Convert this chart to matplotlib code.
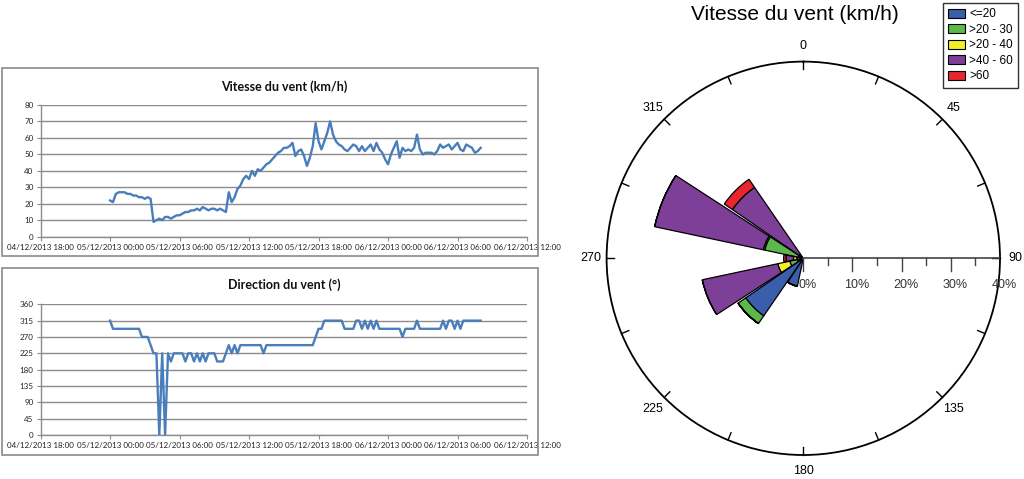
import numpy as np
import pandas as pd
import matplotlib
matplotlib.use("Agg")
import matplotlib.pyplot as plt
import matplotlib.dates as mdates
import matplotlib.transforms as mtransforms
from matplotlib.patches import Rectangle, Patch

# --- time series, one reading every 15 min from 05/12/2013 00:00 ---
speed = [22, 21, 26, 27, 27, 27, 26, 26, 25, 25, 24, 24, 23, 24, 23, 9,
         10, 11, 10, 12, 12, 11, 12, 13, 13, 14, 15, 15, 16, 16, 17, 16,
         18, 17, 16, 17, 17, 16, 17, 16, 15, 27, 21, 24, 29, 31, 35, 37,
         35, 40, 37, 41, 40, 42, 44, 45, 47, 49, 51, 52, 54, 54, 55, 57,
         49, 52, 53, 49, 43, 48, 55, 69, 58, 53, 58, 63, 70, 62, 58, 56,
         55, 53, 52, 54, 56, 55, 52, 55, 52, 54, 56, 52, 57, 53, 51, 47,
         44, 50, 54, 58, 48, 54, 52, 53, 52, 54, 62, 53, 50, 51, 51, 51,
         50, 52, 56, 54, 55, 56, 53, 55, 57, 53, 52, 56, 55, 54, 51, 52,
         54]

direction = [315, 292.5, 292.5, 292.5, 292.5, 292.5, 292.5, 292.5, 292.5, 292.5,
             292.5, 270, 270, 270, 247.5, 225, 225, 0, 225, 0,
             225, 202.5, 225, 225, 225, 225, 202.5, 225, 225, 202.5,
             225, 202.5, 225, 202.5, 225, 225, 225, 202.5, 202.5, 202.5,
             225, 247.5, 225, 247.5, 225, 247.5, 247.5, 247.5, 247.5, 247.5,
             247.5, 247.5, 247.5, 225, 247.5, 247.5, 247.5, 247.5, 247.5, 247.5,
             247.5, 247.5, 247.5, 247.5, 247.5, 247.5, 247.5, 247.5, 247.5, 247.5,
             247.5, 270, 292.5, 292.5, 315, 315, 315, 315, 315, 315,
             315, 292.5, 292.5, 292.5, 292.5, 315, 315, 292.5, 315, 292.5,
             315, 292.5, 315, 292.5, 292.5, 292.5, 292.5, 292.5, 292.5, 292.5,
             292.5, 270, 292.5, 292.5, 292.5, 292.5, 315, 292.5, 292.5, 292.5,
             292.5, 292.5, 292.5, 292.5, 292.5, 315, 292.5, 315, 315, 292.5,
             315, 292.5, 315, 315, 315, 315, 315, 315, 315]

# --- wind rose: percentage per sector and speed class ---
sectors = [202.5, 225, 247.5, 270, 292.5, 315]
classes = ["<=20", ">20 - 30", ">20 - 40", ">40 - 60", ">60"]
pct_le20 = [5.8, 14.2, 1.2, 0.5, 1.0, 0.3]
pct_20_30 = [0.0, 1.9, 1.6, 0.8, 7.0, 0.7]
pct_30_40 = [0.0, 0.0, 2.5, 0.7, 0.3, 0.0]
pct_40_60 = [0.0, 0.0, 15.7, 1.5, 22.6, 16.5]
pct_gt60 = [0.0, 0.0, 0.0, 0.5, 0.0, 2.0]
class_colors = ["#3a5eab", "#5cb84a", "#f3ee2a", "#7d3f98", "#e8262b"]

W, H = 1024, 479
fig = plt.figure(figsize=(W / 100, H / 100), dpi=100)
fig.patch.set_facecolor("white")

line_col = "#4a7ebb"
grid_col = "#8c8c8c"
font_xl = ["Lato", "DejaVu Sans"]
font_rose = ["Liberation Sans", "DejaVu Sans"]

times = pd.date_range("2013-12-05 00:00", periods=len(speed), freq="15min")


def fx(px):
    return px / W


def fy(py):
    return 1 - py / H


def excel_axes(rect, data, ymax, ystep, title, title_y):
    ax = fig.add_axes(rect)
    ax.plot(times, data, color=line_col, lw=1.7)
    ax.set_xlim(pd.Timestamp("2013-12-04 18:00"), pd.Timestamp("2013-12-06 12:00"))
    ax.set_ylim(0, ymax)
    ax.set_yticks(np.arange(0, ymax + 1, ystep))
    ax.xaxis.set_major_locator(mdates.HourLocator(byhour=[0, 6, 12, 18]))
    ax.xaxis.set_major_formatter(mdates.DateFormatter("%d/%m/%Y %H:%M"))
    ax.grid(axis="y", color=grid_col, lw=1)
    ax.set_axisbelow(True)
    for s in ["top", "right"]:
        ax.spines[s].set_visible(False)
    for s in ["left", "bottom"]:
        ax.spines[s].set_color(grid_col)
        ax.spines[s].set_linewidth(1)
    ax.tick_params(axis="both", length=3, width=0.8, color=grid_col,
                   labelsize=5.8, labelcolor="#222222", pad=2)
    for lab in ax.get_xticklabels() + ax.get_yticklabels():
        lab.set_family(font_xl)
    ax.set_facecolor("none")
    fig.text(fx(284), fy(title_y), title, ha="center", va="center",
             fontsize=9, fontweight="bold", family=font_xl, color="#111111")
    return ax


ax1 = excel_axes([fx(40.6), fy(236.7), fx(527 - 40.6), (236.7 - 105) / H],
                 speed, 80, 10, "Vitesse du vent (km/h)", 87)
ax2 = excel_axes([fx(40.6), fy(435), fx(527 - 40.6), (435 - 304.3) / H],
                 direction, 360, 45, "Direction du vent (°)", 285)

# chart frames
for y0, y1 in [(68, 256), (268, 455)]:
    fig.add_artist(Rectangle((fx(2), fy(y1)), fx(536), (y1 - y0) / H,
                             transform=fig.transFigure, fill=False,
                             edgecolor="#8a8a8a", lw=1.2))

# --- wind rose ---
cx, cy, R = 803.3, 258.3, 196.7
axp = fig.add_axes([fx(cx - R), fy(cy + R), fx(2 * R), 2 * R / H], projection="polar")
axp.set_theta_zero_location("N")
axp.set_theta_direction(-1)
axp.set_ylim(0, 40)
axp.grid(False)
axp.set_xticks([])
axp.set_yticks([])
axp.spines["polar"].set_linewidth(1.3)
axp.spines["polar"].set_color("black")

theta = np.radians(sectors)
width = np.radians(21)
bottom = np.zeros(len(sectors))
for vals, col in zip([pct_le20, pct_20_30, pct_30_40, pct_40_60, pct_gt60], class_colors):
    vals = np.array(vals)
    axp.bar(theta, vals, width=width, bottom=bottom, color=col,
            edgecolor="black", lw=0.9, zorder=3)
    bottom = bottom + vals

# radial axis along 90 degrees with ticks
axp.plot([np.pi / 2, np.pi / 2], [0, 40], color="#444444", lw=1.2, zorder=4)
for r in np.arange(0, 40, 5):
    d = 2.6 if r % 10 == 0 else 1.3
    axp.plot([np.pi / 2, np.pi / 2 + np.arctan2(d, r)], [r, np.hypot(r, d)],
             color="#444444", lw=1, zorder=4)
lab_tr = mtransforms.offset_copy(axp.transData, fig=fig, x=4, y=-27, units="dots")
for r in [0, 10, 20, 30, 40]:
    axp.text(np.pi / 2, r, f"{r}%", transform=lab_tr, ha="center", va="center",
             fontsize=9, family=font_rose, color="#333333", zorder=5)

# compass ticks and labels
for a in np.arange(0, 360, 22.5):
    axp.plot([np.radians(a)] * 2, [38.4, 40], color="black", lw=1, clip_on=False)
for a in range(0, 360, 45):
    axp.text(np.radians(a), 43.2, str(a), ha="center", va="center", fontsize=9,
             family=font_rose, clip_on=False)

fig.text(fx(795), fy(14), "Vitesse du vent (km/h)", ha="center", va="center",
         fontsize=15, family=font_rose)

handles = [Patch(facecolor=c, edgecolor="black", lw=0.8) for c in class_colors]
leg = fig.legend(handles, classes, loc="upper right", bbox_to_anchor=(fx(1018), fy(3)),
                 frameon=True, fancybox=False, edgecolor="black",
                 prop={"family": font_rose, "size": 8.5},
                 handlelength=1.4, handleheight=0.8, labelspacing=0.3,
                 borderpad=0.45, handletextpad=0.35, borderaxespad=0)
leg.get_frame().set_linewidth(1)

fig.savefig("out.png", dpi=100)
